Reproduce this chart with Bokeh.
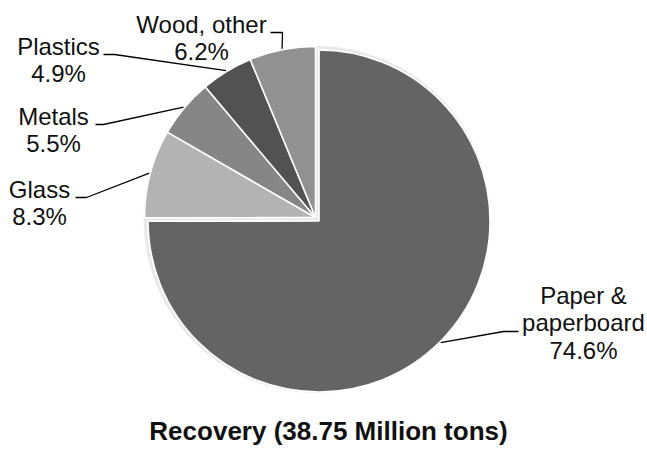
import math
from bokeh.plotting import figure
from bokeh.models import Range1d, ColumnDataSource
from bokeh.embed import file_html
from bokeh.resources import INLINE
from bokeh.core.properties import value

# ---- data ----
categories = ["Paper & paperboard", "Glass", "Metals", "Plastics", "Wood, other"]
shares = [74.6, 8.3, 5.5, 4.9, 6.2]
label_names = [["Paper &", "paperboard"], ["Glass"], ["Metals"], ["Plastics"], ["Wood, other"]]
title_text = "Recovery (38.75 Million tons)"

# ---- style / layout ----
colors = ["#646464", "#b3b3b3", "#868686", "#525252", "#919191"]
explode = [5, 0, 0, 0, 0]
CX, CY, R = 315.0, 217.0, 171.0
FONT = "Liberation Sans"
TEXT_DY = 8.5   # svg text baseline correction
# first-line baseline centre of each label (page px), line step
label_pos = [(583, 303), (39, 197), (53, 124), (58, 54), (201, 32)]
line_step = 27.5
# leader: (x at text, x at elbow, y)
leaders = [(518, 503, 331), (75, 86, 197), (95, 103, 124), (103, 114, 54), (270, 282, 32)]

W, H = 647, 449
def Y(py):
    return H - py

p = figure(width=W, height=H, output_backend="svg", toolbar_location=None,
           x_range=Range1d(0, W), y_range=Range1d(0, H),
           min_border=0)
p.axis.visible = False
p.grid.visible = False
p.outline_line_color = None
p.background_fill_color = "white"
p.border_fill_color = "white"

total = sum(shares)
cum = [0.0]
for s in shares:
    cum.append(cum[-1] + s / total)

# faint shadow
p.circle(x=[CX + 1.5], y=[Y(CY + 2)], radius=R + 2.5, radius_units="screen",
         fill_color="#d4d4d4", fill_alpha=0.5, line_color=None)

xs, ys, sa, ea, anchors = [], [], [], [], []
for i, s in enumerate(shares):
    c0, c1 = cum[i], cum[i + 1]
    mid = math.radians(360 * (c0 + c1) / 2)
    cx = CX + explode[i] * math.sin(mid)
    cy = CY - explode[i] * math.cos(mid)
    xs.append(cx)
    ys.append(Y(cy))
    sa.append(math.radians(90 - 360 * c1))
    ea.append(math.radians(90 - 360 * c0))
    anchors.append((cx + (R + 1) * math.sin(mid), cy - (R + 1) * math.cos(mid)))

src = ColumnDataSource(dict(x=xs, y=ys, start=sa, end=ea, color=colors, name=categories))
p.wedge(x="x", y="y", radius=R, radius_units="screen", start_angle="start", end_angle="end",
        direction="anticlock", fill_color="color", line_color="white", line_width=1.6, source=src)

# leader lines
for (tx, ex, ly), (ax, ay) in zip(leaders, anchors):
    p.line(x=[tx, ex, ax], y=[Y(ly), Y(ly), Y(ay)], line_color="black", line_width=1.3)

# labels
tx_, ty_, tt_ = [], [], []
for (lx, ly), names, s in zip(label_pos, label_names, shares):
    lines = names + [f"{s:.1f}%"]
    for k, t in enumerate(lines):
        tx_.append(lx)
        ty_.append(Y(ly + k * line_step - TEXT_DY))
        tt_.append(t)
p.text(x=tx_, y=ty_, text=tt_, text_font=value(FONT), text_font_size="24px",
       text_align="center", text_baseline="alphabetic", text_color="#111111")

p.text(x=[328], y=[Y(439 - TEXT_DY)], text=[title_text], text_font=value(FONT), text_font_size="26px",
       text_font_style="bold", text_align="center", text_baseline="alphabetic", text_color="#111111")

open("out.html", "w").write(file_html(p, INLINE))
